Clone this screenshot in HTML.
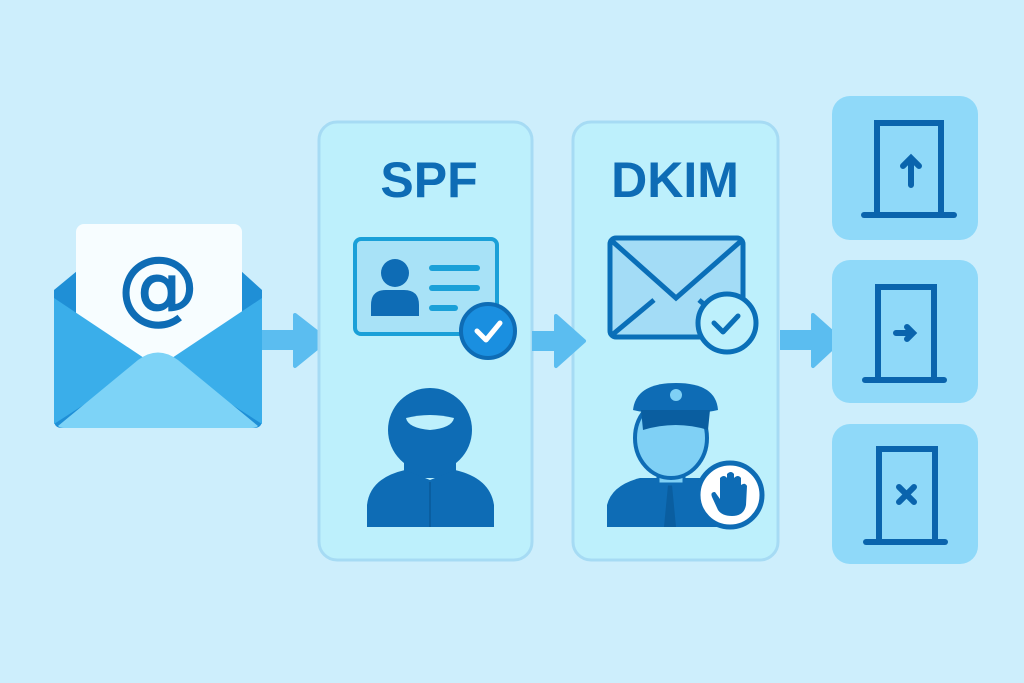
<!DOCTYPE html>
<html><head><meta charset="utf-8"><style>
html,body{margin:0;padding:0;background:#cdeefc;}
svg{display:block}
</style></head><body>
<svg width="1024" height="683" viewBox="0 0 1024 683" xmlns="http://www.w3.org/2000/svg">
<rect width="1024" height="683" fill="#cdeefc"/>
<!-- Envelope -->
<path d="M54 290 L100 252 L220 252 L262 290 L262 420 Q262 428 254 428 L62 428 Q54 428 54 420 Z" fill="#1f8fd6"/>
<rect x="76" y="224" width="166" height="150" rx="8" fill="#f7fdff"/>
<text x="158" y="314" text-anchor="middle" font-family="DejaVu Sans, sans-serif" font-size="80" fill="#0e6cb5" stroke="#0e6cb5" stroke-width="1.5">@</text>
<path d="M54 298 L150 362 L54 424 Z" fill="#3aaeea"/>
<path d="M262 298 L166 362 L262 424 Z" fill="#3aaeea"/>
<path d="M58 426 L138 360 Q158 345 178 360 L258 426 Q256 428 252 428 L64 428 Q60 428 58 426 Z" fill="#7dd3f7"/>
<!-- Arrow 1 -->
<rect x="262" y="330" width="36" height="20" fill="#5bbdf0"/>
<path d="M295 315 L327 340 L295 366 Z" fill="#5bbdf0" stroke="#5bbdf0" stroke-width="4" stroke-linejoin="round"/>
<!-- Panels -->
<rect x="319" y="122" width="213" height="438" rx="18" fill="#bdf0fc" stroke="#a6dbf4" stroke-width="3"/>
<rect x="573" y="122" width="205" height="438" rx="18" fill="#bdf0fc" stroke="#a6dbf4" stroke-width="3"/>
<text x="429" y="197" text-anchor="middle" font-family="Liberation Sans, sans-serif" font-weight="bold" font-size="50" fill="#0e6cb5">SPF</text>
<text x="675" y="197" text-anchor="middle" font-family="Liberation Sans, sans-serif" font-weight="bold" font-size="50" fill="#0e6cb5">DKIM</text>
<!-- ID card -->
<rect x="355" y="239" width="142" height="95" rx="6" fill="#a8e2f7" stroke="#1aa0d8" stroke-width="4"/>
<circle cx="395" cy="273" r="14" fill="#0e6cb5"/>
<path d="M371 316 L371 305 Q371 290 386 290 L404 290 Q419 290 419 305 L419 316 Z" fill="#0e6cb5"/>
<g stroke="#1aa0d8" stroke-width="6" stroke-linecap="round"><line x1="432" y1="268" x2="477" y2="268"/><line x1="432" y1="288" x2="477" y2="288"/><line x1="432" y1="308" x2="455" y2="308"/></g>
<circle cx="488" cy="331" r="27" fill="#1a8fe0" stroke="#0e6cb5" stroke-width="4"/>
<path d="M477 331 L486 340 L500 323" fill="none" stroke="#fff" stroke-width="5" stroke-linecap="round" stroke-linejoin="round"/>
<!-- Guard -->
<circle cx="430" cy="430" r="42" fill="#0e6cb5"/>
<path d="M406 418 Q430 412 454 418 Q452 428 430 430 Q408 428 406 418Z" fill="#bdf0fc"/>
<path d="M404 450 L456 450 L456 478 L404 478Z" fill="#0e6cb5"/>
<path d="M367 527 L367 505 Q370 478 405 470 L430 480 L455 470 Q490 478 494 505 L494 527 Z" fill="#0e6cb5"/>
<line x1="430" y1="482" x2="430" y2="527" stroke="#0a5ea0" stroke-width="2"/>
<!-- Arrow 2 -->
<rect x="532" y="331" width="24" height="20" fill="#5bbdf0"/>
<path d="M556 316 L584 341 L556 366 Z" fill="#5bbdf0" stroke="#5bbdf0" stroke-width="4" stroke-linejoin="round"/>
<!-- DKIM envelope -->
<rect x="610" y="238" width="133" height="99" rx="6" fill="#a3dcf6" stroke="#0a6fb8" stroke-width="5"/>
<path d="M612 241 L676 298 L741 241 M612 335 L654 300 M741 335 L699 300" fill="none" stroke="#0a6fb8" stroke-width="5"/>
<circle cx="727" cy="323" r="29" fill="#bdf0fc" stroke="#0a6fb8" stroke-width="5"/>
<path d="M714 323 L723 332 L738 316" fill="none" stroke="#0a6fb8" stroke-width="5" stroke-linecap="round" stroke-linejoin="round"/>
<!-- Officer -->
<path d="M607 527 L607 505 Q612 485 640 478 L700 478 Q720 485 725 505 L725 527Z" fill="#0e6cb5"/>
<path d="M668 485 L664 527 L676 527 L672 485Z" fill="#0a5ea0"/>
<rect x="658" y="462" width="26" height="22" fill="#7fd0f5" stroke="#0e6cb5" stroke-width="3"/>
<ellipse cx="671" cy="438" rx="36" ry="40" fill="#7fd0f5" stroke="#0e6cb5" stroke-width="4"/>
<path d="M633 410 Q636 383 676 383 Q716 383 718 410 Q700 414 676 414 Q650 414 633 410Z" fill="#0e6cb5"/>
<path d="M641 410 L710 410 L708 430 Q676 420 643 430Z" fill="#0a5ea0"/>
<circle cx="676" cy="395" r="6" fill="#7fd0f5"/>
<circle cx="730" cy="495" r="32" fill="#fff" stroke="#0e6cb5" stroke-width="5"/>
<path d="M718 510 L712 497 Q710 492 715 492 L720 499 L720 478 Q724 474 727 478 L727 474 Q731 470 734 474 L734 478 Q738 474 741 478 L741 485 Q745 482 747 486 L746 505 Q744 516 732 516 Q722 516 718 510Z" fill="#0e6cb5"/>
<!-- Arrow 3 -->
<rect x="780" y="330" width="38" height="20" fill="#5bbdf0"/>
<path d="M813 315 L841 340 L813 366 Z" fill="#5bbdf0" stroke="#5bbdf0" stroke-width="4" stroke-linejoin="round"/>
<!-- Result boxes -->
<rect x="832" y="96" width="146" height="144" rx="18" fill="#8fd9f9"/>
<rect x="832" y="260" width="146" height="143" rx="18" fill="#8fd9f9"/>
<rect x="832" y="424" width="146" height="140" rx="18" fill="#8fd9f9"/>
<g fill="none" stroke="#0a64ad" stroke-width="6" stroke-linecap="round">
<path d="M877 214 L877 123 L941 123 L941 214"/><line x1="864" y1="215" x2="954" y2="215"/>
<path d="M911 185 L911 158 M903 166 L911 158 L919 166"/>
<path d="M878 378 L878 287 L934 287 L934 378"/><line x1="865" y1="380" x2="944" y2="380"/>
<path d="M896 333 L913 333 M907 327 L913 333 L907 339"/>
<path d="M879 541 L879 449 L935 449 L935 541"/><line x1="866" y1="542" x2="945" y2="542"/>
<path d="M899 487 L914 502 M914 487 L899 502"/>
</g>
</svg>
</body></html>
